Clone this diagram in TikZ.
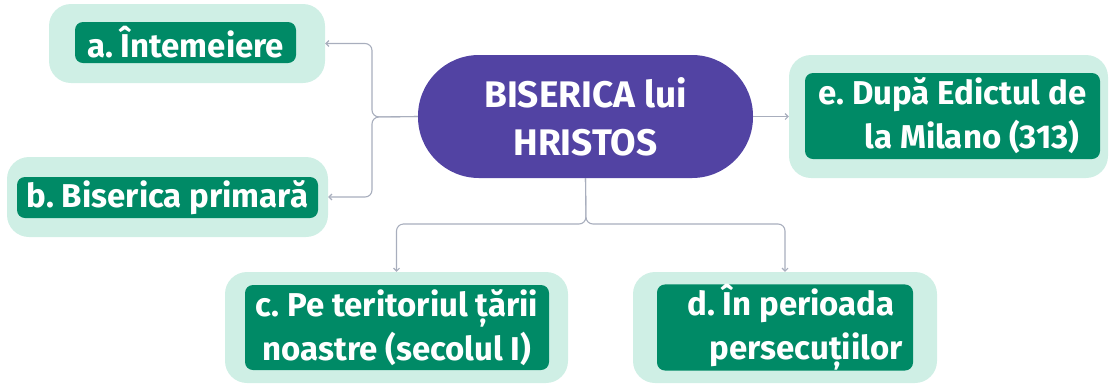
\documentclass[tikz,border=0pt]{standalone}
\usepackage{fontspec}
\setmainfont{Fira Sans}
\usetikzlibrary{arrows.meta}
\definecolor{mint}{HTML}{CFEFE5}
\definecolor{leaf}{HTML}{008A66}
\definecolor{violet}{HTML}{5243A3}
\definecolor{wire}{HTML}{A8AEBD}
\tikzset{
  outerbox/.style={draw=none, fill=mint, rounded corners=22pt, inner sep=0pt},
  innerbox/.style={draw=none, fill=leaf, rounded corners=8pt, inner sep=0pt, text=white,
    font=\frenchspacing\bfseries\fontsize{33}{44}\selectfont},
  centerbox/.style={draw=none, fill=violet, rounded corners=61pt, inner sep=0pt, text=white,
    font=\bfseries\fontsize{37}{48}\selectfont, align=center,
    minimum width=335pt, minimum height=123pt},
  conn/.style={draw=wire, line width=1.1pt, rounded corners=7pt,
    -{Straight Barb[length=3pt,width=6pt]}}
}
\begin{document}
\begin{tikzpicture}[x=1pt,y=-1pt]
\useasboundingbox (0,0) rectangle (1111,384);
% outer boxes
\node[outerbox, minimum width=276pt, minimum height=79pt] (a) at (187,43.5) {};
\node[outerbox, minimum width=321pt, minimum height=80pt] (b) at (167.5,197) {};
\node[outerbox, minimum width=319pt, minimum height=123pt] (e) at (948.5,116.5) {};
\node[outerbox, minimum width=343pt, minimum height=111pt] (c) at (396.5,327.5) {};
\node[outerbox, minimum width=304pt, minimum height=111pt] (d) at (785,327.5) {};
% inner boxes
\node[innerbox, minimum width=221pt, minimum height=41pt] (ai) at (185.5,42.5) {a. Întemeiere};
\node[innerbox, minimum width=301pt, minimum height=41pt] (bi) at (167.5,197.5) {b. Biserica primară};
\node[innerbox, align=right, minimum width=295pt, minimum height=86pt] (ei) at (952.5,116) {e. După Edictul de\\la Milano (313)\hspace{7pt}\mbox{}};
\node[innerbox, align=center, minimum width=304pt, minimum height=85pt] (ci) at (397,327.5) {c. Pe teritoriul țării\\noastre (secolul I)};
\node[innerbox, align=right, minimum width=256pt, minimum height=85pt] (di) at (785,327.5) {\mbox{}\hspace{20pt}d. În perioada\hspace{8pt}\mbox{}\\persecuțiilor};
% center
\node[centerbox] (cen) at (585.5,116.5) {BISERICA lui\\HRISTOS};
% connectors
\coordinate (lj) at (372,117);
\coordinate (bj) at (586,224);
\draw[conn] (cen.west) -- (lj) |- (a.east);
\draw[conn] (cen.west) -- (lj) |- (b.east);
\draw[conn] (cen.east) -- (e.west);
\draw[conn] (cen.south) -- (bj) -| (c.north);
\draw[conn] (cen.south) -- (bj) -| (d.north);
\end{tikzpicture}
\end{document}
